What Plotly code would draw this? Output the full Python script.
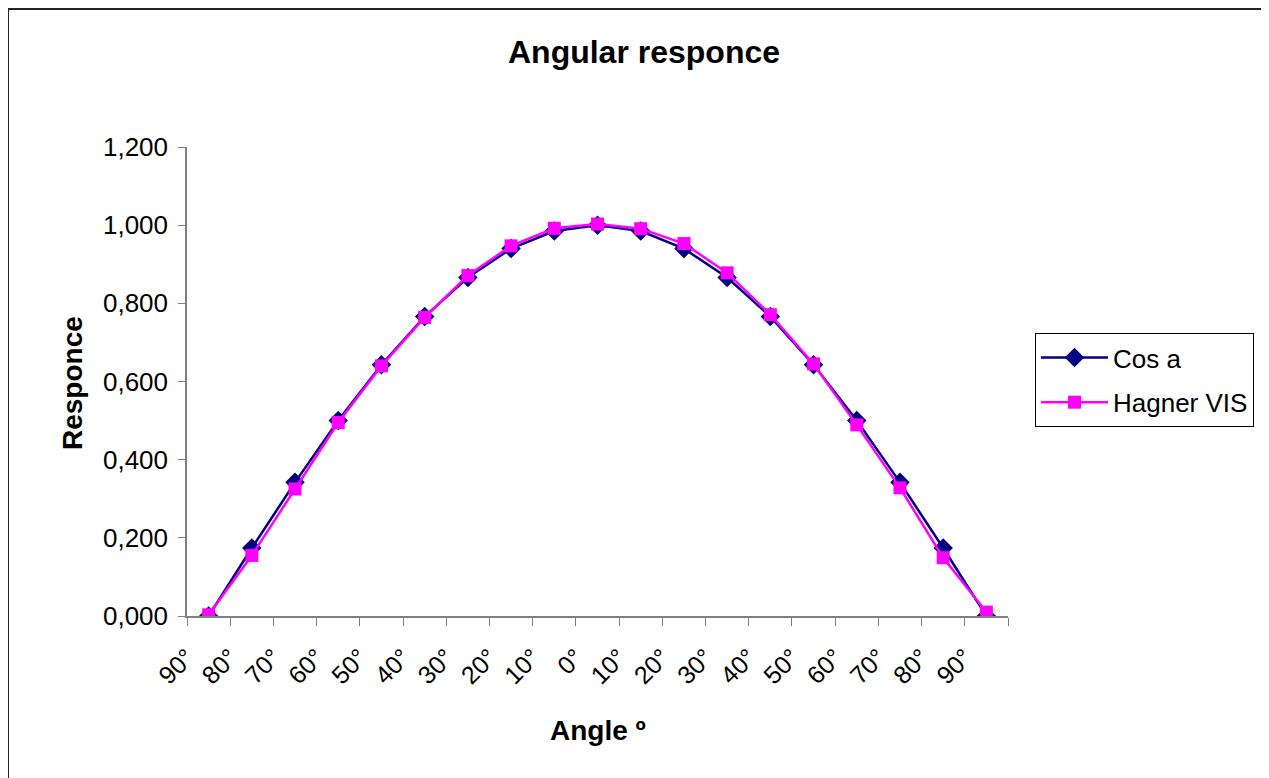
import plotly.graph_objects as go

angle_labels = ["90°", "80°", "70°", "60°", "50°", "40°", "30°", "20°", "10°", "0°",
                "10°", "20°", "30°", "40°", "50°", "60°", "70°", "80°", "90°"]
cos_a = [0.000, 0.174, 0.342, 0.500, 0.643, 0.766, 0.866, 0.940, 0.985, 1.000,
         0.985, 0.940, 0.866, 0.766, 0.643, 0.500, 0.342, 0.174, 0.000]
hagner_vis = [0.003, 0.155, 0.325, 0.495, 0.640, 0.764, 0.871, 0.947, 0.992, 1.003,
              0.991, 0.953, 0.878, 0.771, 0.645, 0.489, 0.328, 0.149, 0.010]
y_ticks = [0.0, 0.2, 0.4, 0.6, 0.8, 1.0, 1.2]

n = len(angle_labels)
x_pos = [i + 0.5 for i in range(n)]   # points sit between category tick marks

OFF = 8  # page body margin
W, H = 1269 - OFF, 778 - OFF
L, R, T, B = 187 - OFF, 1008 - OFF, 147 - OFF, 616 - OFF
PW, PH = R - L, B - T


def px(x):
    return (x - OFF - L) / PW


def py(y):
    return (B - (y - OFF)) / PH


FONT = "Liberation Sans, Arial, sans-serif"

fig = go.Figure()
fig.add_trace(go.Scatter(
    x=x_pos, y=cos_a, name="Cos a", mode="lines+markers",
    line=dict(color="#000080", width=2.5),
    marker=dict(symbol="diamond", size=15, color="#000080"),
    legendgroup="a",
))
fig.add_trace(go.Scatter(
    x=x_pos, y=hagner_vis, name="Hagner VIS", mode="lines+markers",
    line=dict(color="#FF00FF", width=2.5),
    marker=dict(symbol="square", size=13, color="#FF00FF"),
    legendgroup="b",
))

fig.update_layout(
    width=W, height=H,
    margin=dict(l=L, r=W - R, t=T, b=H - B, autoexpand=False),
    paper_bgcolor="white", plot_bgcolor="white",
    separators=",.",
    font=dict(family=FONT, color="black", size=25),
    title=dict(text="<b>Angular responce</b>", x=(644 - OFF) / W, xanchor="center",
               y=1 - (52 - OFF) / H, yanchor="middle", font=dict(size=32, family=FONT)),
    showlegend=True,
    legend=dict(x=px(1035), y=py(333), xanchor="left", yanchor="top",
                bordercolor="black", borderwidth=1, bgcolor="white",
                font=dict(size=26, family=FONT), traceorder="grouped",
                tracegroupgap=8, itemwidth=67),
    xaxis=dict(range=[0, n], tickmode="array",
               tickvals=list(range(n + 1)), ticktext=angle_labels + [""],
               tickangle=-45, ticks="outside", ticklen=8, tickcolor="#808080",
               showline=True, linecolor="#808080", linewidth=1.5,
               showgrid=False, zeroline=False,
               tickfont=dict(size=25, family=FONT), ticklabelstandoff=7),
    yaxis=dict(range=[0, 1.2], tickmode="array", tickvals=y_ticks,
               tickformat=".3f", ticks="outside", ticklen=7, tickcolor="#808080",
               showline=True, linecolor="#808080", linewidth=1.5,
               showgrid=False, zeroline=False,
               tickfont=dict(size=26, family=FONT), ticklabelstandoff=5),
    annotations=[
        dict(text="<b>Responce</b>", xref="paper", yref="paper",
             x=px(72), y=py(383), textangle=-90, showarrow=False,
             xanchor="center", yanchor="middle", font=dict(size=28, family=FONT)),
        dict(text="<b>Angle º</b>", xref="paper", yref="paper",
             x=px(598), y=py(730), showarrow=False,
             xanchor="center", yanchor="middle", font=dict(size=28, family=FONT)),
    ],
    shapes=[
        dict(type="rect", xref="paper", yref="paper",
             x0=px(8), x1=px(1267), y0=py(800), y1=py(9),
             line=dict(color="#222222", width=2), layer="below"),
    ],
)

fig.write_html("out.html")
